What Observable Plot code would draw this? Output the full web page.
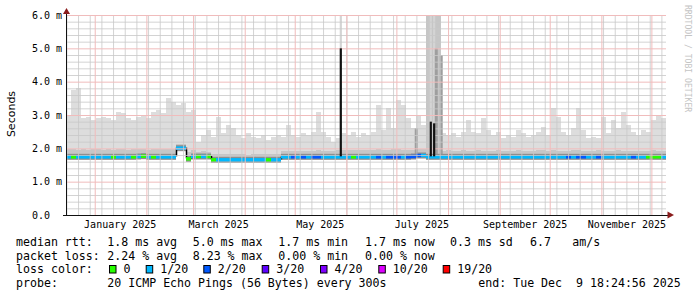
<!DOCTYPE html>
<html><head><meta charset="utf-8">
<script src="https://cdn.jsdelivr.net/npm/d3@7"></script>
<script src="https://cdn.jsdelivr.net/npm/@observablehq/plot@0.6"></script>
<style>
html,body{margin:0;padding:0;background:#fff;}
#chart svg{display:block;}
</style></head><body><div id="chart"></div>
<script>
// ---- data ----
const endTime = new Date(Date.UTC(2025, 11, 9, 18, 24, 56));
const spanDays = 360;
const binDays = 3;

// top of the smoke (slowest ping) per 3-day bin, ms
const smokeMax = [
 3.0,3.75,3.8,2.9,2.95,2.85,2.9,2.95,2.9,2.85,
 3.1,3.05,2.9,2.85,2.95,3.0,2.9,3.1,3.15,3.05,
 3.5,3.4,3.3,3.35,3.1,3.15,2.2,2.4,2.55,2.35,
 2.95,2.45,2.7,2.6,2.4,2.3,2.45,2.35,2.3,2.4,
 2.25,2.35,2.4,2.35,2.7,2.4,2.35,2.45,2.4,2.5,
 3.1,2.5,2.35,2.2,2.3,2.45,2.4,2.5,2.35,2.45,
 2.4,2.5,3.3,2.55,3.2,2.6,3.45,3.3,2.9,2.6,
 3.0,2.7,6.5,6.5,6.5,2.45,2.4,2.45,2.35,2.5,
 2.85,2.5,2.45,2.9,2.55,2.4,2.5,2.3,2.4,2.35,
 2.55,2.45,2.35,2.4,2.5,2.65,2.4,3.2,2.95,2.5,
 2.4,2.6,3.2,2.55,2.3,2.35,2.3,2.95,2.45,2.85,
 2.6,3.1,2.7,2.5,2.4,2.55,2.5,2.85,3.0,2.9];

// top of the darker inner smoke band, ms
const smokeBand = [
 1.97,1.98,1.96,1.97,1.95,1.97,1.98,1.96,1.97,1.95,
 1.97,1.98,1.96,1.97,1.97,1.98,1.96,1.97,1.99,1.97,
 1.98,1.97,2.12,2.13,1.9,1.95,1.9,1.91,1.9,1.82,
 1.83,1.82,1.84,1.82,1.83,1.82,1.81,1.83,1.82,1.82,
 1.83,1.82,1.82,1.92,1.93,1.92,1.91,1.93,1.92,1.92,
 1.94,1.92,1.91,1.92,1.95,1.94,1.95,1.96,1.94,1.95,
 1.95,1.96,1.97,1.95,1.96,1.97,1.98,1.96,1.95,1.96,
 1.98,1.97,6.5,6.5,6.5,1.93,1.94,1.93,1.92,1.94,
 1.93,1.92,1.94,1.93,1.92,1.93,1.94,1.93,1.92,1.93,
 1.94,1.93,1.92,1.93,1.94,1.95,1.93,1.94,1.93,1.92,
 1.93,1.94,1.95,1.93,1.92,1.93,1.94,1.93,1.92,1.93,
 1.94,1.93,1.92,1.93,1.92,1.93,1.92,1.94,1.93,1.92];

// bottom of the smoke (fastest ping), ms
const smokeMin = [
 1.70,1.70,1.70,1.70,1.70,1.70,1.70,1.70,1.70,1.70,
 1.70,1.70,1.70,1.70,1.70,1.70,1.70,1.70,1.70,1.70,
 1.70,1.70,1.95,1.95,1.64,1.71,1.71,1.71,1.71,1.61,
 1.61,1.61,1.61,1.61,1.61,1.61,1.61,1.61,1.61,1.61,
 1.61,1.61,1.61,1.70,1.70,1.70,1.70,1.70,1.70,1.70,
 1.70,1.70,1.70,1.70,1.70,1.70,1.70,1.70,1.70,1.70,
 1.70,1.70,1.70,1.70,1.70,1.70,1.70,1.70,1.70,1.70,
 1.73,1.73,1.70,1.70,1.70,1.70,1.70,1.70,1.70,1.70,
 1.70,1.70,1.70,1.70,1.70,1.70,1.70,1.70,1.70,1.70,
 1.68,1.68,1.68,1.70,1.70,1.70,1.70,1.70,1.70,1.70,
 1.70,1.70,1.70,1.70,1.70,1.70,1.70,1.70,1.70,1.70,
 1.70,1.70,1.70,1.70,1.70,1.70,1.70,1.70,1.70,1.70];

// median rtt per bin, ms
const medianRtt = [
 1.76,1.76,1.76,1.76,1.76,1.76,1.76,1.76,1.76,1.76,
 1.76,1.76,1.76,1.76,1.77,1.78,1.76,1.76,1.76,1.76,
 1.76,1.76,2.02,2.02,1.70,1.77,1.77,1.77,1.77,1.67,
 1.67,1.67,1.67,1.67,1.67,1.67,1.67,1.67,1.67,1.67,
 1.67,1.67,1.67,1.76,1.76,1.76,1.76,1.76,1.76,1.76,
 1.76,1.76,1.76,1.76,1.76,1.76,1.76,1.76,1.76,1.76,
 1.76,1.76,1.76,1.76,1.76,1.76,1.76,1.76,1.76,1.77,
 1.80,1.80,1.76,1.76,1.76,1.76,1.76,1.76,1.76,1.76,
 1.76,1.76,1.76,1.76,1.76,1.76,1.76,1.76,1.76,1.76,
 1.76,1.76,1.76,1.76,1.76,1.76,1.76,1.76,1.76,1.76,
 1.76,1.76,1.76,1.76,1.76,1.76,1.76,1.76,1.76,1.76,
 1.76,1.76,1.76,1.76,1.76,1.76,1.76,1.76,1.76,1.76];

// pings lost (of 20) per bin
const lossLevel = [
 1,0,1,1,1,1,1,1,1,0,
 1,1,1,0,1,0,1,0,1,1,
 1,1,1,1,0,1,0,1,0,0,
 1,1,1,1,1,1,1,1,1,1,
 0,1,1,1,1,2,1,2,1,2,
 2,1,1,1,1,1,1,0,1,1,
 1,1,2,1,2,2,2,1,2,2,
 2,1,1,1,1,1,1,1,1,1,
 1,1,1,1,1,1,1,1,1,1,
 1,1,1,1,1,1,1,1,1,1,
 2,1,2,2,1,1,2,1,1,1,
 1,1,1,2,1,1,0,0,0,1];

// single-sample spikes of the median
const spikeDates = ["2025-05-28", "2025-07-21", "2025-07-23"];
const spikeMedian = [5.0, 2.8, 2.75];
const spikeMax = [6.5, 6.5, 6.5];

// dark smoke stripes
const stripeDates = ["2025-07-12", "2025-07-24", "2025-07-27"];
const stripeTop = [2.6, 5.0, 4.8];

const lossSteps = [0, 1, 2, 3, 4, 10, 19];
const lossLabels = ["0", "1/20", "2/20", "3/20", "4/20", "10/20", "19/20"];
const lossColors = ["#26ff00", "#00b8ff", "#0059ff", "#5e00ff", "#7e00ff", "#dd00ff", "#ff0000"];

const yTicks = [0, 1, 2, 3, 4, 5, 6];
const monthLabels = ["January 2025", "March 2025", "May 2025", "July 2025", "September 2025", "November 2025"];
const monthLabelDates = ["2025-01-16", "2025-03-16", "2025-05-16", "2025-07-16", "2025-09-16", "2025-11-16"];

const rttLegend = ["median rtt:", "1.8 ms avg", "5.0 ms max", "1.7 ms min", "1.7 ms now", "0.3 ms sd", "6.7", "am/s"];
const lossLegend = ["packet loss:", "2.24 % avg", "8.23 % max", "0.00 % min", "0.00 % now"];
const probeLegend = ["probe:", "20 ICMP Echo Pings (56 Bytes) every 300s", "end: Tue Dec  9 18:24:56 2025"];
const colorLegendTitle = "loss color:";
const yTitle = "Seconds";
const watermark = "RRDTOOL / TOBI OETIKER";

// ---- build ----
const DAY = 864e5;
const start = new Date(+endTime - spanDays * DAY);
const bins = smokeMax.map((m, i) => ({
  t0: new Date(+start + i * binDays * DAY),
  t1: new Date(+start + (i + 1) * binDays * DAY),
  max: m, band: smokeBand[i], lo: smokeMin[i], med: medianRtt[i],
  loss: lossLabels[lossSteps.indexOf(lossLevel[i])]
}));
const jumps = bins.slice(1).map((b, i) => ({t: b.t0, a: bins[i].med, b: b.med}))
  .filter(d => Math.abs(d.a - d.b) > 0.04);
const spikes = spikeDates.map((d, i) => ({t0: new Date(d + "T00:00Z"), t1: new Date(+new Date(d + "T00:00Z") + 1.3 * DAY), base: 1.76, med: spikeMedian[i], max: spikeMax[i]}));
const stripes = stripeDates.map((d, i) => ({t0: new Date(d + "T00:00Z"), t1: new Date(+new Date(d + "T00:00Z") + 1.8 * DAY), base: 1.76, top: stripeTop[i]}));
const labelMap = new Map(monthLabelDates.map((d, i) => [+new Date(d + "T00:00Z"), monthLabels[i]]));

const weekLines = d3.utcSunday.range(start, endTime);
const monthLines = d3.utcMonth.range(start, endTime);
const minorY = d3.range(1, 30).filter(k => k % 5 !== 0).map(k => k / 5);
const majorY = [1, 2, 3, 4, 5, 6];

const grid = "#c8c8c8", mgrid = "#f0bcbc";

const chart = Plot.plot({
  width: 697, height: 297,
  marginLeft: 66, marginRight: 31, marginTop: 15, marginBottom: 82,
  style: {fontFamily: "'DejaVu Sans Mono', monospace", fontSize: "10px", color: "#000", background: "#fff"},
  x: {type: "utc", domain: [start, endTime]},
  y: {domain: [0, 6]},
  color: {domain: lossLabels, range: lossColors},
  marks: [
    Plot.rect(bins, {x1: "t0", x2: "t1", y1: "lo", y2: "max", fill: "#dddddd", clip: true, shapeRendering: "crispEdges"}),
    Plot.rect(bins, {x1: "t0", x2: "t1", y1: "lo", y2: "band", fill: "#c6c6c6", clip: true, shapeRendering: "crispEdges"}),
    Plot.rect(spikes, {x1: "t0", x2: "t1", y1: "base", y2: "max", fill: "#d4d4d4", clip: true}),
    Plot.rect(stripes, {x1: "t0", x2: "t1", y1: "base", y2: "top", fill: "#9e9e9e", clip: true}),
    Plot.ruleY(bins, {x1: "t0", x2: "t1", y: "med", stroke: "#8e8e8e", strokeWidth: 6}),
    Plot.ruleX(jumps, {x: "t", y1: "a", y2: "b", stroke: "#000", strokeWidth: 1.5}),
    Plot.ruleY(bins, {x1: "t0", x2: "t1", y: "med", stroke: "loss", strokeWidth: 3.5}),
    Plot.ruleX(weekLines, {x: d => d, y1: 0, y2: 6, stroke: grid, strokeWidth: 1, strokeOpacity: 0.8}),
    Plot.ruleY(minorY, {y: d => d, x1: start, x2: endTime, stroke: grid, strokeWidth: 1, strokeOpacity: 0.8}),
    Plot.ruleX(monthLines, {x: d => d, y1: 0, y2: 6, stroke: mgrid, strokeWidth: 1}),
    Plot.ruleY(majorY, {y: d => d, x1: start, x2: endTime, stroke: mgrid, strokeWidth: 1}),
    Plot.rect(spikes, {x1: "t0", x2: "t1", y1: "base", y2: "med", fill: "#111", clip: true}),
    Plot.axisY({ticks: yTicks, tickSize: 0, tickPadding: 4.5, label: null,
      tickFormat: d => d === 0 ? "0.0\u00a0\u00a0" : d.toFixed(1) + " m"}),
    Plot.axisX({ticks: monthLabelDates.map(d => new Date(d + "T00:00Z")), tickSize: 0, tickPadding: 5, label: null,
      tickFormat: d => labelMap.get(+d)}),
    Plot.ruleY([0], {stroke: "#111", insetLeft: -3, insetRight: -3}),
    Plot.ruleX([start], {stroke: "#111", insetTop: -4})
  ]
});
document.getElementById("chart").appendChild(chart);

// ---- decorations: arrows, titles, legend ----
const svg = d3.select(chart);
const arrow = "#8a1c1c";
svg.append("path").attr("d", "M667.5,211.5L674,215L667.5,218.5Z").attr("fill", arrow);
svg.append("path").attr("d", "M66.5,8L70,14L63,14Z").attr("fill", arrow);

svg.append("text").attr("transform", "translate(15,114) rotate(-90)")
  .attr("text-anchor", "middle").attr("font-family", "'DejaVu Sans', sans-serif")
  .attr("font-size", 11).attr("fill", "#000").text(yTitle);

svg.append("text").attr("transform", "translate(685,5) rotate(90)")
  .attr("text-anchor", "start")
  .attr("font-family", "'DejaVu Sans Mono', monospace").attr("font-size", 8.1)
  .attr("fill", "#c4c4c4").text(watermark);

const lg = svg.append("g").attr("font-family", "'DejaVu Sans Mono', monospace")
  .attr("text-anchor", "start")
  .attr("font-size", 11.6).attr("fill", "#000").style("white-space", "pre");
function put(txt, x, y) { lg.append("text").attr("x", x).attr("y", y).attr("text-anchor", "start").attr("xml:space", "preserve").text(txt); }
const rowY = [246, 259.7, 273.4, 287.1];
const colX = [16, 107.3, 192.7, 278.3, 365, 450];
rttLegend.slice(0, 6).forEach((t, i) => put(t, colX[i], rowY[0]));
put(rttLegend[6], 530, rowY[0]);
put(rttLegend[7], 572.3, rowY[0]);
lossLegend.forEach((t, i) => put(t, colX[i], rowY[1]));
put(colorLegendTitle, 16, rowY[2]);
const boxX = [109, 145.7, 203.3, 261.7, 320, 378.3, 442.7];
lossLabels.forEach((t, i) => {
  lg.append("rect").attr("x", boxX[i] + 0.5).attr("y", 265.5).attr("width", 6.5).attr("height", 7.5)
    .attr("fill", lossColors[i]).attr("stroke", "#000").attr("stroke-width", 1);
  put(t, boxX[i] + 14.5, rowY[2]);
});
put(probeLegend[0], 16, rowY[3]);
put(probeLegend[1], 107.3, rowY[3]);
put(probeLegend[2], 478.3, rowY[3]);
</script>
</body></html>
